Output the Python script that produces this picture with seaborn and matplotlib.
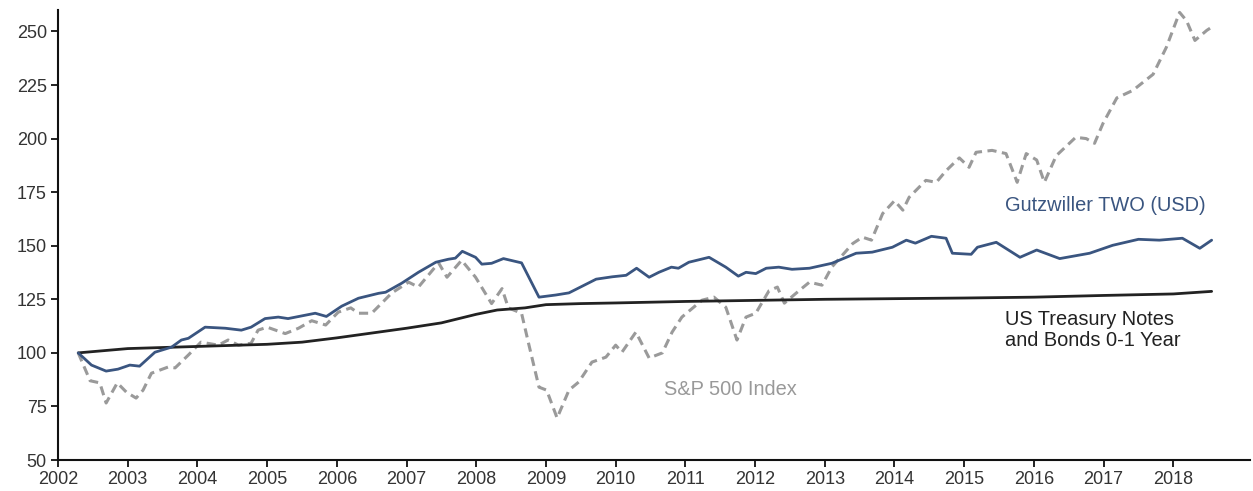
import matplotlib
matplotlib.use("Agg")
import matplotlib.pyplot as plt
import seaborn as sns

# Gutzwiller TWO (USD), indexed to 100
gutz_dates = [2002.29, 2002.48, 2002.69, 2002.86, 2003.03, 2003.17, 2003.39, 2003.63, 2003.77,
              2003.87, 2004.11, 2004.40, 2004.63, 2004.77, 2004.97, 2005.16, 2005.30, 2005.55,
              2005.69, 2005.85, 2006.07, 2006.31, 2006.60, 2006.70, 2006.93, 2007.17, 2007.42,
              2007.60, 2007.70, 2007.80, 2007.99, 2008.08, 2008.22, 2008.39, 2008.65, 2008.90,
              2009.14, 2009.33, 2009.72, 2009.95, 2010.15, 2010.30, 2010.48, 2010.62, 2010.80,
              2010.90, 2011.05, 2011.34, 2011.58, 2011.76, 2011.87, 2012.01, 2012.16, 2012.34,
              2012.53, 2012.78, 2013.10, 2013.31, 2013.45, 2013.68, 2013.97, 2014.17, 2014.30,
              2014.53, 2014.74, 2014.83, 2015.10, 2015.19, 2015.46, 2015.80, 2016.04, 2016.37,
              2016.80, 2017.13, 2017.50, 2017.80, 2018.13, 2018.38, 2018.55]
gutz_values = [100.0, 94.3, 91.5, 92.4, 94.3, 93.8, 100.3, 102.7, 106.0,
               106.8, 112.0, 111.5, 110.6, 112.0, 116.0, 116.7, 116.0, 117.6,
               118.5, 117.0, 121.8, 125.5, 127.8, 128.3, 132.5, 137.6, 142.3,
               143.7, 144.2, 147.4, 144.6, 141.4, 141.8, 144.0, 142.0, 126.0,
               127.0, 128.0, 134.4, 135.5, 136.2, 139.5, 135.3, 137.6, 140.0,
               139.5, 142.3, 144.6, 140.0, 135.8, 137.6, 137.0, 139.5, 140.0,
               139.0, 139.5, 141.8, 144.6, 146.5, 147.0, 149.3, 152.6, 151.2,
               154.4, 153.5, 146.5, 146.0, 149.3, 151.6, 144.6, 148.0, 144.0,
               146.5, 150.2, 153.0, 152.6, 153.5, 148.8, 152.6]

# US Treasury Notes and Bonds 0-1 Year
ust_dates = [2002.29, 2003.0, 2004.0, 2005.0, 2005.5, 2006.0, 2007.0, 2007.5, 2008.0, 2008.3,
             2008.7, 2009.0, 2009.5, 2010.0, 2011.0, 2012.0, 2013.0, 2014.0, 2015.0, 2016.0,
             2017.0, 2018.0, 2018.55]
ust_values = [100.0, 102.0, 103.0, 104.0, 105.0, 107.0, 111.5, 114.0, 118.0, 120.0,
              121.0, 122.5, 123.0, 123.3, 124.0, 124.5, 125.0, 125.3, 125.6, 126.0,
              126.8, 127.5, 128.7]

# S&P 500 Index
spx_dates = [2002.29, 2002.46, 2002.60, 2002.69, 2002.85, 2002.98, 2003.12, 2003.22, 2003.34,
             2003.58, 2003.68, 2003.87, 2004.05, 2004.30, 2004.44, 2004.59, 2004.77, 2004.87,
             2005.00, 2005.26, 2005.45, 2005.64, 2005.84, 2006.02, 2006.20, 2006.31, 2006.50,
             2006.79, 2007.03, 2007.17, 2007.46, 2007.58, 2007.79, 2007.99, 2008.22, 2008.37,
             2008.46, 2008.65, 2008.75, 2008.90, 2009.01, 2009.16, 2009.33, 2009.47, 2009.66,
             2009.86, 2010.00, 2010.09, 2010.29, 2010.48, 2010.67, 2010.81, 2010.95, 2011.24,
             2011.41, 2011.58, 2011.74, 2011.87, 2012.01, 2012.20, 2012.32, 2012.42, 2012.63,
             2012.78, 2012.96, 2013.10, 2013.40, 2013.54, 2013.67, 2013.83, 2014.00, 2014.12,
             2014.21, 2014.45, 2014.60, 2014.74, 2014.93, 2015.07, 2015.17, 2015.40, 2015.60,
             2015.76, 2015.89, 2016.04, 2016.15, 2016.32, 2016.60, 2016.75, 2016.87, 2016.99,
             2017.19, 2017.42, 2017.71, 2017.90, 2018.09, 2018.19, 2018.31, 2018.48, 2018.55]
spx_values = [100.0, 87.0, 86.0, 76.6, 86.0, 81.7, 78.9, 82.6, 90.5,
              93.4, 93.0, 99.0, 105.0, 103.6, 106.0, 103.6, 104.5, 110.6,
              112.0, 109.0, 111.5, 115.0, 113.0, 119.0, 121.0, 118.5, 118.5,
              128.0, 133.0, 130.7, 142.0, 135.3, 143.2, 135.3, 123.0, 130.0,
              121.0, 118.5, 104.5, 84.0, 82.6, 69.6, 82.6, 86.4, 95.7,
              98.0, 103.6, 100.3, 109.7, 97.6, 100.0, 109.7, 116.7, 124.6,
              126.0, 121.3, 106.0, 116.7, 118.5, 129.0, 130.7, 123.2, 129.0,
              133.0, 131.6, 140.0, 151.0, 154.0, 152.6, 165.0, 171.0, 166.6,
              172.6, 180.5, 179.6, 185.0, 191.0, 186.6, 193.6, 194.5, 193.0,
              179.6, 193.0, 190.0, 179.6, 192.0, 200.6, 200.0, 197.8, 207.0,
              219.0, 222.5, 230.0, 242.6, 258.9, 255.0, 245.8, 250.5, 252.0]

year_ticks = list(range(2002, 2019))
value_ticks = [50, 75, 100, 125, 150, 175, 200, 225, 250]

sns.set_style("ticks")
plt.rcParams['font.family'] = ['Liberation Sans', 'DejaVu Sans']

fig = plt.figure(figsize=(12.53, 4.91), dpi=100)
ax = fig.add_axes([0.0463, 0.0631, 0.9513, 0.9165])

sns.lineplot(x=spx_dates, y=spx_values, ax=ax, color='#9a9a9a', linewidth=2.2,
             linestyle=(0, (3, 1.8)))
sns.lineplot(x=ust_dates, y=ust_values, ax=ax, color='#222222', linewidth=2.0)
sns.lineplot(x=gutz_dates, y=gutz_values, ax=ax, color='#3a5580', linewidth=2.0)

ax.set_xlim(2002, 2019.1)
ax.set_ylim(50, 260)
ax.set_xticks(year_ticks)
ax.set_yticks(value_ticks)
ax.tick_params(axis='both', labelsize=13, length=5, width=1.3, color='#111111',
               labelcolor='#333333', pad=3)
sns.despine(ax=ax)
for s in ['left', 'bottom']:
    ax.spines[s].set_linewidth(1.5)
    ax.spines[s].set_color('#111111')

ax.text(2015.58, 168.9, 'Gutzwiller TWO (USD)', color='#3a5580', fontsize=14.4, va='center')
ax.text(2015.58, 110.6, 'US Treasury Notes\nand Bonds 0-1 Year', color='#222222',
        fontsize=14.4, va='center', linespacing=1.15)
ax.text(2010.69, 83.1, 'S&P 500 Index', color='#999999', fontsize=14.4, va='center')

fig.savefig('out.png', dpi=100)
